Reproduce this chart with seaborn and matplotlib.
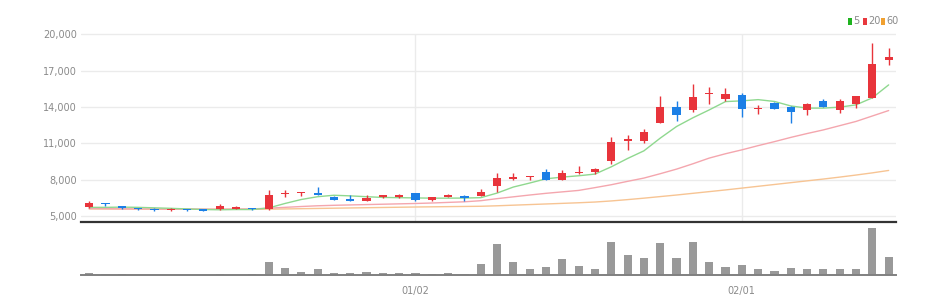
import numpy as np
import pandas as pd
import matplotlib
matplotlib.use("Agg")
import matplotlib.pyplot as plt
from matplotlib.patches import Rectangle
import seaborn as sns

# ---- data ----
opens = [5750, 6000, 5800, 5650, 5600, 5450, 5590, 5530, 5530, 5590,
         5640, 5530, 6770, 6850, 6880, 6550, 6410, 6220, 6520, 6520,
         6850, 6330, 6580, 6640, 6640, 7430, 8060, 8170, 8640, 7980,
         8530, 8620, 9550, 11170, 11220, 12710, 14030, 13750, 15050, 14660,
         14970, 13810, 14360, 14030, 13750, 14520, 13750, 14250, 14720, 17900]
highs = [6250, 6080, 5830, 5680, 5620, 5620, 5600, 5540, 5980, 5800,
         5660, 7130, 7150, 7000, 7350, 6600, 6720, 6720, 6760, 6780,
         6900, 6550, 6790, 6680, 7210, 8530, 8530, 8300, 8860, 8800,
         9080, 8950, 11500, 11690, 12210, 14935, 14500, 15900, 15630, 15545,
         15180, 14140, 14380, 14050, 14300, 14640, 14690, 14930, 19260, 18845]
lows = [5670, 5840, 5600, 5480, 5370, 5420, 5400, 5400, 5480, 5560,
        5500, 5480, 6580, 6660, 6700, 6300, 6200, 6200, 6500, 6500,
        6250, 6250, 6560, 6190, 6600, 6990, 7980, 7980, 7950, 7950,
        8450, 8450, 9300, 10450, 11010, 12710, 12870, 13610, 14220, 14520,
        13200, 13420, 13800, 12710, 13340, 14030, 13530, 13920, 14720, 17440]
closes = [6080, 5950, 5650, 5580, 5480, 5600, 5480, 5420, 5810, 5750,
          5530, 6690, 6880, 6990, 6720, 6330, 6250, 6490, 6720, 6750,
          6330, 6520, 6690, 6470, 6990, 8120, 8170, 8280, 7980, 8500,
          8640, 8860, 11140, 11340, 11920, 14030, 13340, 14800, 15180, 15050,
          13810, 13920, 13810, 13590, 14250, 14030, 14470, 14910, 17570, 18150]
ma5 = [5700, 5700, 5720, 5700, 5660, 5620, 5570, 5520, 5500, 5520,
       5520, 5650, 6020, 6350, 6580, 6700, 6650, 6580, 6520, 6500,
       6480, 6460, 6460, 6470, 6500, 6880, 7380, 7710, 8060, 8200,
       8310, 8450, 9050, 9740, 10370, 11420, 12380, 13100, 13750, 14440,
       14500, 14600, 14450, 14080, 13900, 13900, 13980, 14170, 14750, 15820]
ma20 = [5600, 5590, 5580, 5570, 5560, 5560, 5560, 5550, 5550, 5560,
        5570, 5630, 5700, 5770, 5830, 5870, 5900, 5930, 5960, 5990,
        6020, 6060, 6110, 6160, 6250, 6420, 6570, 6720, 6860, 6980,
        7100, 7330, 7570, 7850, 8120, 8480, 8860, 9300, 9770, 10130,
        10450, 10800, 11130, 11480, 11800, 12100, 12450, 12800, 13250, 13700]
ma60 = [5570, 5565, 5560, 5555, 5550, 5545, 5540, 5540, 5540, 5540,
        5540, 5550, 5570, 5590, 5610, 5630, 5650, 5670, 5690, 5710,
        5730, 5745, 5760, 5775, 5790, 5830, 5880, 5930, 5980, 6030,
        6080, 6140, 6230, 6340, 6460, 6590, 6720, 6860, 7000, 7140,
        7290, 7440, 7590, 7740, 7890, 8040, 8200, 8370, 8550, 8750]
volume = [7, 3, 3, 1, 1, 1, 1, 1, 3, 1,
          3, 38, 20, 8, 17, 6, 6, 8, 6, 6,
          5, 3, 6, 3, 32, 92, 39, 19, 25, 47,
          27, 19, 99, 61, 52, 97, 50, 99, 39, 23,
          31, 18, 12, 22, 19, 18, 18, 18, 140, 54]
tick_index = [20, 40]
tick_labels = ["01/02", "02/01"]
price_ticks = [5000, 8000, 11000, 14000, 17000, 20000]
legend_labels = ["5", "20", "60"]

# ---- styling ----
sns.set_theme(style="white")
FONT = ["Liberation Sans Narrow", "DejaVu Sans"]
plt.rcParams["font.family"] = FONT

RED = "#e8343b"
BLUE = "#1b7fe6"
MA_COLORS = ["#8fd88f", "#f4a6ae", "#f7c493"]
LEG_COLORS = ["#1fb31f", "#e8383d", "#f0a030"]
TXT = "#8a8a8a"

W, H = 952, 308
fig = plt.figure(figsize=(W / 100, H / 100), dpi=100)

def fy(y):
    return 1 - y / H

ax = fig.add_axes([81 / W, fy(221.7), (896 - 81) / W, (221.7 - 28) / H])
axv = fig.add_axes([81 / W, fy(275), (896 - 81) / W, (275 - 222) / H])

pos = np.arange(len(closes))
o = np.array(opens); c = np.array(closes)
hi = np.array(highs); lo = np.array(lows)
colors = [RED if cc >= oo else BLUE for oo, cc in zip(o, c)]

# grid
for t in price_ticks:
    ax.axhline(t, color="#ebebeb", lw=1, zorder=0)
ax.vlines(tick_index, 4515, price_ticks[-1], color="#ebebeb", lw=1, zorder=0)

# moving averages
ma_df = pd.DataFrame({"pos": pos, "ma5": ma5, "ma20": ma20, "ma60": ma60})
for col, mc in zip(["ma60", "ma20", "ma5"], MA_COLORS[::-1]):
    sns.lineplot(data=ma_df, x="pos", y=col, ax=ax, color=mc, lw=1.0, zorder=2)

# candles
ax.vlines(pos, lo, hi, colors=colors, lw=1, zorder=3)
body_h = np.maximum(np.abs(c - o), 90)
ax.bar(pos, body_h, bottom=np.minimum(o, c), width=0.5, color=colors, zorder=4, linewidth=0)

ax.set_xlim(-0.5, 49.45)
ax.set_ylim(4515, 20520)
ax.set_yticks(price_ticks)
ax.set_yticklabels([f"{t:,}" for t in price_ticks])
ax.set_xticks([])
ax.set_xlabel(""); ax.set_ylabel("")
ax.tick_params(axis="y", length=0, pad=3, labelsize=7, labelcolor=TXT)
for s in ["top", "left", "right"]:
    ax.spines[s].set_visible(False)
ax.spines["bottom"].set_color("#333333")
ax.spines["bottom"].set_linewidth(1.6)
ax.patch.set_alpha(0)

# volume
vol_df = pd.DataFrame({"pos": pos, "vol": volume})
sns.barplot(data=vol_df, x="pos", y="vol", ax=axv, color="#999999", width=0.5,
            native_scale=True, errorbar=None, saturation=1, linewidth=0)
axv.set_xlim(-0.5, 49.45)
axv.set_ylim(0, 159)
axv.set_xlabel(""); axv.set_ylabel("")
axv.set_yticks([])
axv.set_xticks(tick_index)
axv.set_xticklabels(tick_labels)
axv.tick_params(axis="x", length=4, width=1, color="#555555", pad=4,
                labelsize=7, labelcolor=TXT)
for s in ["top", "left", "right"]:
    axv.spines[s].set_visible(False)
axv.spines["bottom"].set_color("#808080")
axv.spines["bottom"].set_linewidth(1.4)
axv.patch.set_alpha(0)

# legend (top right)
sq_x = [848, 863, 881]
tx_x = [853.5, 868, 886]
for lx, tx, col, lab in zip(sq_x, tx_x, LEG_COLORS, legend_labels):
    fig.add_artist(Rectangle((lx / W, fy(24.5)), 3.6 / W, 7 / H,
                             transform=fig.transFigure, color=col, lw=0))
    fig.text(tx / W, fy(21), lab, fontsize=7, color=TXT, va="center", ha="left")

fig.savefig("out.png", dpi=100)
